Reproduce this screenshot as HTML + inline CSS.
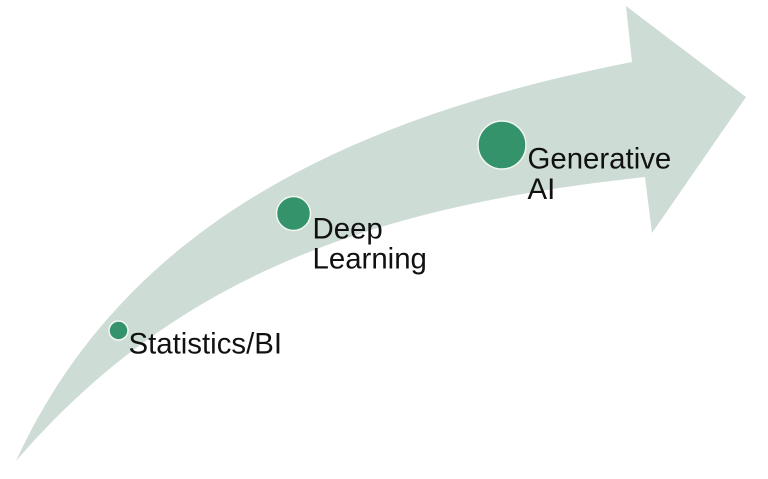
<!DOCTYPE html>
<html>
<head>
<meta charset="utf-8">
<style>
html,body{margin:0;padding:0;background:#fff;width:768px;height:479px;overflow:hidden}
svg{display:block;filter:blur(0.35px)}
text{font-family:"Liberation Sans",Arial,sans-serif;font-size:29.4px;fill:#111}
</style>
</head>
<body>
<svg width="768" height="479" viewBox="0 0 768 479" xmlns="http://www.w3.org/2000/svg">
<path d="M16 461 C120 234 335 120 632 62 L626 6 L746 97 L652 233 L645 177 C385 205 180 270 16 461 Z" fill="#cddcd5"/>
<circle cx="118.500" cy="330.500" r="9.500" fill="#35936b" stroke="#f2f7f4" stroke-width="1.500"/>
<circle cx="293.500" cy="213.500" r="17" fill="#35936b" stroke="#f2f7f4" stroke-width="1.500"/>
<circle cx="502" cy="145" r="24" fill="#35936b" stroke="#f2f7f4" stroke-width="1.500"/>
<text x="128.500" y="353.500">Statistics/BI</text>
<text x="312.500" y="238.500">Deep</text>
<text x="312.500" y="268.500">Learning</text>
<text x="527.500" y="168.500">Generative</text>
<text x="527.500" y="199">AI</text>
</svg>
</body>
</html>
